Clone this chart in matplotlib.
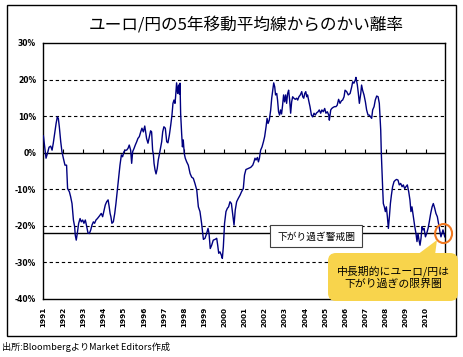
import matplotlib
matplotlib.use("Agg")
import matplotlib.pyplot as plt
from matplotlib.patches import Rectangle, FancyBboxPatch, Polygon, Ellipse
from matplotlib.transforms import IdentityTransform

JP = ['Noto Sans CJK JP', 'DejaVu Sans']

# EUR/JPY deviation from 5-year moving average (%)
years = [
    1991.02, 1991.15, 1991.22, 1991.30, 1991.38, 1991.45, 1991.51, 1991.58, 1991.65, 1991.71,
    1991.76, 1991.81, 1991.88, 1991.94, 1992.01, 1992.09, 1992.17, 1992.22, 1992.31, 1992.37,
    1992.44, 1992.51, 1992.57, 1992.60, 1992.65, 1992.70, 1992.77, 1992.84, 1992.90, 1992.97,
    1993.03, 1993.10, 1993.17, 1993.23, 1993.30, 1993.37, 1993.43, 1993.50, 1993.56, 1993.63,
    1993.70, 1993.80, 1993.89, 1993.96, 1994.03, 1994.09, 1994.16, 1994.23, 1994.28, 1994.33,
    1994.37, 1994.42, 1994.49, 1994.56, 1994.62, 1994.69, 1994.76, 1994.82, 1994.89, 1994.95,
    1995.02, 1995.09, 1995.15, 1995.22, 1995.28, 1995.35, 1995.40, 1995.45, 1995.52, 1995.58,
    1995.65, 1995.71, 1995.78, 1995.85, 1995.91, 1995.98, 1996.05, 1996.08, 1996.14, 1996.21,
    1996.28, 1996.34, 1996.39, 1996.44, 1996.48, 1996.51, 1996.56, 1996.61, 1996.67, 1996.72,
    1996.77, 1996.84, 1996.89, 1996.94, 1997.00, 1997.07, 1997.14, 1997.20, 1997.27, 1997.34,
    1997.40, 1997.45, 1997.50, 1997.55, 1997.58, 1997.63, 1997.68, 1997.73, 1997.77, 1997.80,
    1997.83, 1997.88, 1997.92, 1997.96, 1998.01, 1998.06, 1998.13, 1998.21, 1998.30, 1998.38,
    1998.46, 1998.54, 1998.63, 1998.71, 1998.79, 1998.87, 1998.96, 1999.04, 1999.12, 1999.19,
    1999.24, 1999.30, 1999.37, 1999.45, 1999.54, 1999.62, 1999.67, 1999.72, 1999.78, 1999.85,
    1999.90, 1999.95, 2000.01, 2000.08, 2000.15, 2000.21, 2000.28, 2000.35, 2000.41, 2000.48,
    2000.54, 2000.61, 2000.69, 2000.78, 2000.85, 2000.94, 2001.00, 2001.07, 2001.19, 2001.31,
    2001.41, 2001.47, 2001.52, 2001.57, 2001.64, 2001.69, 2001.74, 2001.80, 2001.87, 2001.94,
    2002.00, 2002.07, 2002.12, 2002.17, 2002.23, 2002.30, 2002.35, 2002.40, 2002.45, 2002.50,
    2002.54, 2002.60, 2002.64, 2002.69, 2002.74, 2002.79, 2002.84, 2002.89, 2002.94, 2002.99,
    2003.04, 2003.09, 2003.14, 2003.19, 2003.24, 2003.29, 2003.34, 2003.39, 2003.45, 2003.52,
    2003.59, 2003.64, 2003.70, 2003.77, 2003.84, 2003.89, 2003.94, 2003.99, 2004.04, 2004.09,
    2004.13, 2004.18, 2004.25, 2004.32, 2004.38, 2004.45, 2004.51, 2004.58, 2004.65, 2004.71,
    2004.78, 2004.84, 2004.91, 2004.98, 2005.04, 2005.11, 2005.18, 2005.21, 2005.28, 2005.33,
    2005.40, 2005.47, 2005.54, 2005.60, 2005.67, 2005.74, 2005.81, 2005.87, 2005.94, 2005.99,
    2006.07, 2006.15, 2006.24, 2006.32, 2006.37, 2006.43, 2006.50, 2006.53, 2006.60, 2006.65,
    2006.70, 2006.77, 2006.81, 2006.86, 2006.93, 2007.00, 2007.06, 2007.13, 2007.19, 2007.26,
    2007.31, 2007.36, 2007.43, 2007.49, 2007.56, 2007.63, 2007.69, 2007.76, 2007.79, 2007.82,
    2007.86, 2007.89, 2007.94, 2007.99, 2008.04, 2008.09, 2008.14, 2008.19, 2008.24, 2008.29,
    2008.35, 2008.42, 2008.49, 2008.55, 2008.62, 2008.68, 2008.75, 2008.82, 2008.88, 2008.95,
    2009.01, 2009.08, 2009.15, 2009.21, 2009.26, 2009.31, 2009.38, 2009.45, 2009.51, 2009.56,
    2009.61, 2009.66, 2009.71, 2009.76, 2009.81, 2009.86, 2009.91, 2009.98, 2010.04, 2010.11,
    2010.17, 2010.24, 2010.31, 2010.37, 2010.44, 2010.50, 2010.57, 2010.64, 2010.70, 2010.75,
    2010.80, 2010.85, 2010.90, 2010.94,
]
pct = [
    4.6, -1.5, -0.2, 1.5, 1.8, 0.7, 2.6, 5.3, 8.0, 9.8,
    9.4, 7.1, 3.0, 0.3, -1.5, -3.4, -3.4, -9.8, -10.7, -12.0,
    -13.9, -18.4, -20.2, -22.5, -23.9, -22.1, -19.3, -18.0, -18.9, -18.4,
    -19.3, -18.4, -20.2, -21.9, -22.1, -21.1, -19.8, -18.9, -19.3, -18.4,
    -18.0, -17.3, -16.6, -17.5, -15.7, -14.3, -13.4, -12.9, -14.6, -16.6,
    -17.5, -19.3, -18.9, -16.6, -13.9, -10.2, -6.6, -3.4, -0.6, -1.1,
    0.3, 0.7, 0.7, 1.2, 2.1, 0.7, -2.9, 0.3, 1.2, 2.1,
    3.0, 3.9, 4.4, 5.7, 6.7, 5.7, 7.3, 6.2, 3.9, 2.6,
    4.4, 6.0, 5.7, 0.7, -0.6, -2.9, -4.7, -5.8, -4.3, -2.0,
    -0.6, 1.6, 3.0, 5.7, 7.1, 6.7, 3.0, 2.7, 4.8, 7.6,
    10.3, 13.5, 14.4, 13.5, 15.3, 19.1, 16.2, 18.5, 16.0, 19.0,
    10.8, 5.3, 1.6, 3.5, -0.2, -1.5, -2.5, -3.4, -5.7, -6.7,
    -7.0, -8.4, -10.2, -14.8, -16.1, -19.3, -23.7, -23.4, -22.1, -20.7,
    -22.1, -26.2, -25.3, -23.9, -23.7, -23.4, -25.3, -27.5, -27.1, -28.0,
    -28.9, -25.7, -19.3, -16.1, -15.2, -14.8, -13.4, -13.9, -16.6, -19.8,
    -15.7, -13.4, -12.5, -11.6, -10.7, -9.8, -6.1, -4.6, -4.3, -4.0,
    -3.4, -2.5, -1.5, -2.0, -1.3, -2.5, -1.5, 0.7, 1.6, 3.0,
    4.4, 7.1, 9.4, 8.0, 8.9, 11.7, 14.9, 17.1, 19.1, 18.0,
    15.8, 16.2, 14.4, 11.2, 10.3, 11.7, 10.6, 13.0, 15.8, 13.9,
    15.8, 13.5, 16.2, 17.1, 14.4, 10.8, 13.9, 15.3, 14.9, 14.6,
    14.9, 14.4, 15.3, 15.8, 16.7, 15.3, 14.9, 16.2, 16.7, 15.3,
    15.8, 14.4, 12.6, 10.3, 9.8, 10.8, 10.3, 10.9, 11.2, 11.7,
    10.8, 11.7, 11.2, 12.1, 10.8, 11.2, 10.3, 8.9, 11.7, 12.1,
    12.4, 12.6, 12.6, 13.0, 14.6, 13.5, 14.2, 14.4, 15.3, 17.1,
    16.7, 15.8, 16.2, 18.0, 19.4, 19.0, 19.9, 20.6, 18.5, 16.2,
    13.5, 16.2, 18.5, 17.1, 15.8, 13.9, 11.7, 10.3, 10.3, 9.8,
    9.4, 11.7, 12.6, 14.4, 15.5, 15.3, 13.5, 6.2, -0.2, -4.7,
    -10.2, -13.9, -14.8, -16.1, -14.8, -17.5, -20.7, -17.5, -13.9, -11.6,
    -9.3, -7.9, -7.5, -7.3, -7.5, -8.8, -8.4, -9.3, -8.8, -9.8,
    -9.3, -8.8, -10.7, -12.9, -16.1, -14.8, -17.5, -20.2, -22.1, -24.3,
    -22.1, -23.9, -25.3, -23.4, -20.2, -21.1, -20.7, -23.0, -22.1, -20.7,
    -18.9, -16.6, -14.8, -13.9, -15.2, -16.6, -17.5, -19.8, -21.6, -23.0,
    -22.1, -21.1, -22.1, -23.0,
]

year_labels = [str(y) for y in range(1991, 2011)]
ytick_vals = [30, 20, 10, 0, -10, -20, -30, -40]
ytick_labels = ['30%', '20%', '10%', '0%', '-10%', '-20%', '-30%', '-40%']
grid_dashed = [20, 10, -10, -20, -30]
alert_level = -22

title = 'ユーロ/円の5年移動平均線からのかい離率'
alert_label = '下がり過ぎ警戒圏'
callout_text = '中長期的にユーロ/円は\n下がり過ぎの限界圏'
source_text = '出所:BloombergよりMarket Editors作成'

W, H = 464, 357
fig = plt.figure(figsize=(W / 100, H / 100), dpi=100)
ax = fig.add_axes([43 / W, 1 - 299 / H, 402 / W, 256 / H])

ax.set_xlim(1991.0, 2010.95)
ax.set_ylim(-40, 30)

for g in grid_dashed:
    ax.axhline(g, color='black', lw=0.8, dashes=(3, 2.5), zorder=1)
ax.axhline(0, color='black', lw=1.0, zorder=1)
ax.axhline(alert_level, color='black', lw=1.0, zorder=1)

# small year ticks sitting on the zero line
ax.vlines([int(y) for y in year_labels[1:]], 0, 0.9, color='black', lw=0.8, zorder=1)

ax.plot(years, pct, color='#000080', lw=1.0, zorder=3)

ax.set_xticks([int(y) for y in year_labels])
ax.set_xticklabels(year_labels, rotation=90, fontsize=5.2, fontweight='bold')
ax.set_yticks(ytick_vals)
ax.set_yticklabels(ytick_labels, fontsize=5.5, fontweight='bold')
ax.tick_params(axis='x', length=0, pad=5.5)
ax.tick_params(axis='y', length=0, pad=5)
for sp in ax.spines.values():
    sp.set_linewidth(1.0)

# orange circle on the latest value
ax.add_patch(Ellipse((2010.88, -22.1), 0.84, 5.2, fill=False, edgecolor='#F07820',
                     lw=1.5, clip_on=False, zorder=6))

ident = IdentityTransform()

# outer frame
fig.add_artist(Rectangle((7, H - 336), 449, 331, fill=False, edgecolor='black',
                         lw=1.0, transform=ident))

# alert label box
fig.add_artist(Rectangle((270, H - 247), 92, 22, facecolor='white', edgecolor='#404040',
                         lw=0.8, transform=ident, zorder=4))
fig.text(316, H - 236.5, alert_label, transform=ident, ha='center', va='center',
         fontsize=7, family=JP, zorder=5)

# yellow callout
yellow = '#F8D44C'
fig.add_artist(FancyBboxPatch((328, H - 301), 130, 48,
                              boxstyle='round,pad=0,rounding_size=8',
                              facecolor=yellow, edgecolor='none', transform=ident, zorder=4))
fig.add_artist(Polygon([(417, H - 255), (435, H - 255), (437, H - 240)], closed=True,
                       facecolor=yellow, edgecolor='none', transform=ident, zorder=4))
fig.text(393, H - 277, callout_text, transform=ident, ha='center', va='center',
         fontsize=7.8, family=JP, linespacing=1.25, zorder=5)

fig.text(246, H - 25, title, transform=ident, ha='center', va='center',
         fontsize=12, family=JP)
fig.text(2, H - 347, source_text, transform=ident, ha='left', va='center',
         fontsize=6.6, family=JP)

fig.savefig('out.png', dpi=100)
